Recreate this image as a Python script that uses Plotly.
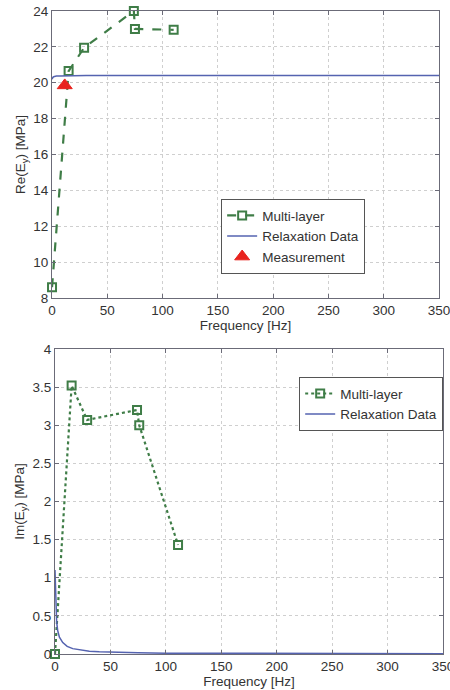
import plotly.graph_objects as go

# ---- data ----
freq_ml = [0, 15, 29, 74, 75, 110]
re_ml = [8.6, 20.65, 21.95, 24.0, 23.0, 22.95]
freq_ml_im = [0, 15, 29, 74, 76, 111]
im_ml = [0.0, 3.52, 3.07, 3.2, 3.0, 1.43]

freq_relax = [0.0, 0.3, 0.8, 1.5, 2.4, 4, 7, 11, 16, 23, 31, 40, 50, 75, 100, 150, 200, 250, 300, 350]
re_relax = [20.2, 20.25, 20.3, 20.33, 20.35, 20.37, 20.38, 20.39, 20.39, 20.4, 20.4, 20.4, 20.4, 20.4, 20.4, 20.4, 20.4, 20.4, 20.4, 20.4]
im_relax = [1.1, 0.9, 0.6, 0.42, 0.31, 0.22, 0.15, 0.1, 0.07, 0.05, 0.035, 0.028, 0.022, 0.015, 0.011, 0.008, 0.006, 0.005, 0.004, 0.004]

freq_meas = [11.5]
re_meas = [19.85]

GREEN = "#3f7d47"
BLUE = "#5563b0"
RED = "#e8231e"
AX = "#6b6b78"
FONT = "Liberation Sans, Arial, sans-serif"

fig = go.Figure()

fig.add_trace(go.Scatter(
    x=freq_ml, y=re_ml, mode="lines+markers", name="Multi-layer",
    line=dict(color=GREEN, width=2.2, dash="dash"),
    marker=dict(symbol="square-open", size=8, color=GREEN, line=dict(width=2)),
    xaxis="x", yaxis="y", legend="legend", cliponaxis=False))
fig.add_trace(go.Scatter(
    x=freq_relax, y=re_relax, mode="lines", name="Relaxation Data",
    line=dict(color=BLUE, width=1.5),
    xaxis="x", yaxis="y", legend="legend", cliponaxis=False))
fig.add_trace(go.Scatter(
    x=freq_meas, y=re_meas, mode="markers", name="Measurement",
    marker=dict(symbol="triangle-up", size=13, color=RED, line=dict(color=RED, width=1)),
    xaxis="x", yaxis="y", legend="legend", cliponaxis=False))

fig.add_trace(go.Scatter(
    x=freq_ml_im, y=im_ml, mode="lines+markers", name="Multi-layer",
    line=dict(color=GREEN, width=2.2, dash="dot"),
    marker=dict(symbol="square-open", size=8, color=GREEN, line=dict(width=2)),
    xaxis="x2", yaxis="y2", legend="legend2", cliponaxis=False))
fig.add_trace(go.Scatter(
    x=freq_relax, y=im_relax, mode="lines", name="Relaxation Data",
    line=dict(color=BLUE, width=1.5),
    xaxis="x2", yaxis="y2", legend="legend2", cliponaxis=False))

axis_common = dict(
    showline=True, linecolor=AX, linewidth=1.2, mirror="allticks",
    ticks="inside", ticklen=4, tickcolor=AX,
    showgrid=True, gridcolor="#cfcfcf", griddash="dot", gridwidth=1,
    zeroline=False, tickfont=dict(family=FONT, size=13.5, color="#333"),
    ticklabeloverflow="allow", automargin=False,
)

fig.update_layout(
    width=450, height=690,
    margin=dict(l=0, r=0, t=0, b=0, autoexpand=False),
    paper_bgcolor="white", plot_bgcolor="white",
    font=dict(family=FONT, size=13, color="#333"),
    xaxis=dict(axis_common, domain=[0.1156, 0.9756], anchor="y",
               range=[0, 350], dtick=50,
               title=dict(text="Frequency [Hz]", standoff=1, font=dict(size=13.5))),
    yaxis=dict(axis_common, domain=[0.5681, 0.9841], anchor="x",
               range=[8, 24], dtick=2,
               title=dict(text="Re(E<sub>y</sub>) [MPa]", standoff=4, font=dict(size=13.5))),
    xaxis2=dict(axis_common, domain=[0.1222, 0.9844], anchor="y2",
                range=[0, 350], dtick=50,
                title=dict(text="Frequency [Hz]", standoff=1, font=dict(size=13.5))),
    yaxis2=dict(axis_common, domain=[0.0522, 0.4942], anchor="x2",
                range=[0, 4], dtick=0.5,
                title=dict(text="Im(E<sub>y</sub>) [MPa]", standoff=4, font=dict(size=13.5))),
    legend=dict(x=0.491, y=0.7116, xanchor="left", yanchor="top",
                bgcolor="white", bordercolor="#555", borderwidth=1.2,
                font=dict(family=FONT, size=13.5, color="#333"),
                tracegroupgap=0, itemwidth=30),
    legend2=dict(x=0.9844, y=0.4536, xanchor="right", yanchor="top",
                 bgcolor="white", bordercolor="#555", borderwidth=1.2,
                 font=dict(family=FONT, size=13.5, color="#333"),
                 tracegroupgap=0, itemwidth=30),
    showlegend=True,
)

fig.write_html("out.html")
